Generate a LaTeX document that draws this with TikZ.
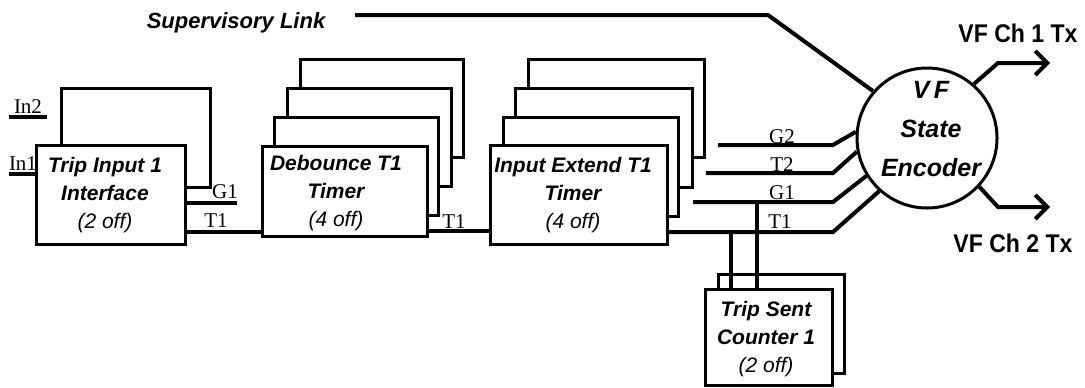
\documentclass[tikz,border=0pt]{standalone}
\usepackage{fontspec}
\setmainfont{Liberation Serif}
\setsansfont{Liberation Sans}
\usetikzlibrary{arrows.meta}
\newcommand\offtxt{\mdseries\itshape}
\newcommand\narrowtxt[1]{\scalebox{0.9}[1]{#1}}
\begin{document}
\begin{tikzpicture}[x=0.5pt,y=-0.5pt,
  box/.style={draw, line width=1.5pt, fill=white, inner sep=0pt, outer sep=0pt, anchor=north west},
  lbl/.style={font=\sffamily\bfseries\itshape\fontsize{10.5}{14}\selectfont, align=center, inner sep=0pt},
  sig/.style={line width=2pt},
  tag/.style={font=\rmfamily\fontsize{10.5}{12}\selectfont, inner sep=0pt},
  outlbl/.style={font=\sffamily\bfseries\fontsize{12.8}{14}\selectfont, inner sep=0pt},
  tip/.style={-{Straight Barb[length=6pt,width=12pt,line width=2pt]}}
]
\useasboundingbox (0,0) rectangle (1085,387);

% ---- signal tags (drawn first so boxes may overlap) ----
\node[tag] (tIn2) at (28,107) {In2};
\node[tag] (tIn1) at (23,164) {In1};

% ---- Trip Input 1 Interface ----
\node[box, minimum width=74.5pt, minimum height=49.5pt] (ti2) at (61,88) {};
\node[box, minimum width=74.5pt, minimum height=49.5pt] (ti1) at (36,145) {};
\node[lbl] (tiT) at (105,195) {Trip Input 1\\Interface\\{\offtxt(2 off)}};

% ---- Debounce T1 Timer ----
\node[box, minimum width=81.5pt, minimum height=49pt] (db4) at (300,59) {};
\node[box, minimum width=82pt, minimum height=49pt] (db3) at (287,88) {};
\node[box, minimum width=82pt, minimum height=49pt] (db2) at (274,117) {};
\node[box, minimum width=82.5pt, minimum height=45pt] (db1) at (262,146) {};
\node[lbl] (dbT) at (336,193) {Debounce T1\\Timer\\{\offtxt(4 off)}};

% ---- Input Extend T1 Timer ----
\node[box, minimum width=88pt, minimum height=49pt] (ie4) at (528,59) {};
\node[box, minimum width=88.5pt, minimum height=49.5pt] (ie3) at (515,88) {};
\node[box, minimum width=87.5pt, minimum height=49.5pt] (ie2) at (503,117) {};
\node[box, minimum width=88.5pt, minimum height=49.5pt] (ie1) at (490,145) {};
\node[lbl] (ieT) at (573,195) {Input Extend T1\\Timer\\{\offtxt(4 off)}};

% ---- Trip Sent Counter 1 ----
\node[box, minimum width=63pt, minimum height=49.5pt] (ts2) at (718,274) {};
\node[box, minimum width=63.5pt, minimum height=48pt] (ts1) at (705,289) {};
\node[lbl] (tsT) at (766,339) {Trip Sent\\Counter 1\\{\offtxt(2 off)}};

% ---- VF State Encoder ----
\node[draw, circle, line width=1.5pt, minimum size=70pt, inner sep=0pt, fill=white] (enc) at (927,138) {};
\node[lbl, font=\sffamily\bfseries\itshape\fontsize{12.5}{19.5}\selectfont] (encT) at (931,129) {V\,F\\State\\Encoder};

% ---- free-end coordinates ----
\coordinate (in2a) at (9,117);  \coordinate (in2b) at (47,117);
\coordinate (in1a) at (9,174);
\coordinate (g1e) at (237,203);
\coordinate (svA) at (355,15);  \coordinate (svB) at (768,15);
\coordinate (g2a) at (718,145); \coordinate (g2b) at (833,145);
\coordinate (t2a) at (706,173); \coordinate (t2b) at (833,173);
\coordinate (g1a) at (693,202); \coordinate (g1b) at (833,202);
\coordinate (t1b) at (833,232);
\coordinate (c1a) at (998,63);  \coordinate (c1b) at (1050,63);
\coordinate (c2a) at (998,207); \coordinate (c2b) at (1050,207);
\coordinate (vA) at (731,232);  \coordinate (vB) at (757,202);

% ---- connectors ----
\draw[sig] (in2a) -- (in2b);
\draw[sig] (in1a) -- (in1a -| ti1.west);
\draw[sig] (ti1.east |- g1e) -- (g1e);
\draw[sig] (ti1.east |- 0,232) -- (db1.west |- 0,232);
\draw[sig] (db1.east |- 0,231) -- (ie1.west |- 0,231);
\draw[sig] (ie1.east |- t1b) -- (t1b) -- (enc.228);
\draw[sig] (g1a) -- (g1b) -- (enc.212);
\draw[sig] (t2a) -- (t2b) -- (enc.191);
\draw[sig] (g2a) -- (g2b) -- (enc.175);
\draw[sig] (svA) -- (svB) -- (enc.139);
\draw[sig] (vA) -- (vA |- ts1.north);
\draw[sig] (vB) -- (vB |- ts1.north);
\draw[sig, tip] (enc.49) -- (c1a) -- (c1b);
\draw[sig, tip] (enc.-43) -- (c2a) -- (c2b);

% ---- tags ----
\node[tag] (tG1a) at (225,192) {G1};
\node[tag] (tT1a) at (216,221) {T1};
\node[tag] (tT1b) at (454,222) {T1};
\node[tag] (tG2) at (782,137) {G2};
\node[tag] (tT2) at (782,165) {T2};
\node[tag] (tG1b) at (782,193) {G1};
\node[tag] (tT1c) at (780,222) {T1};

\node[lbl, font=\sffamily\bfseries\itshape\fontsize{11}{13}\selectfont] (sup) at (236,23) {Supervisory Link};
\node[outlbl] (ch1) at (1018,33) {\narrowtxt{VF Ch 1 Tx}};
\node[outlbl] (ch2) at (1013,243) {\narrowtxt{VF Ch 2 Tx}};
\end{tikzpicture}
\end{document}
